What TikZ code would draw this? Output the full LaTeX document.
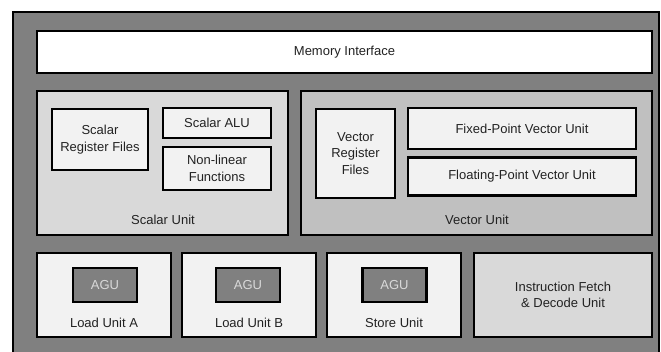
\documentclass[tikz,border=0pt]{standalone}
\usepackage{fontspec}
\setmainfont{Liberation Sans}
\usetikzlibrary{positioning}

\definecolor{shell}{HTML}{808080}
\definecolor{unitgray}{HTML}{D9D9D9}
\definecolor{vecgray}{HTML}{C0C0C0}
\definecolor{paper}{HTML}{F2F2F2}
\definecolor{ink}{HTML}{222222}

\tikzset{
  box/.style={draw=black, line width=2.5pt, fill=paper, text=ink, align=center,
    inner sep=0pt, font=\fontsize{13}{16.5}\selectfont},
  unit/.style={box, fill=unitgray},
  vunit/.style={box, fill=vecgray},
  agu/.style={box, fill=shell, text=unitgray, minimum width=64pt, minimum height=34pt},
  lsu/.style={box, minimum width=134pt, minimum height=84pt},
  caption/.style={text=ink, font=\fontsize{13}{16.5}\selectfont, inner sep=0pt}
}

\begin{document}
\begin{tikzpicture}[x=1pt, y=-1pt]
    \useasboundingbox (0,0) rectangle (661,351);
    \begin{scope}
    \clip (0,0) rectangle (661,351);
    \draw[line width=2.5pt, fill=shell] (13,12) rectangle (659,360);
    \end{scope}

    \node[box, fill=white, minimum width=615pt, minimum height=42pt] (memory) at (344.5,52) {Memory Interface};

    % scalar side
    \node[unit, minimum width=251pt, minimum height=144pt] (scalar) at (162.5,163) {};
    \node[caption] (scalar label) at (163,220) {Scalar Unit};
    \node[box, minimum width=96pt, minimum height=61pt] (srf) at (100,139.5) {Scalar\\Register Files};
    \node[box, minimum width=108pt, minimum height=30pt] (alu) at (217,123) {Scalar ALU};
    \node[box, minimum width=108pt, minimum height=43pt] (nlf) [below=6.5pt of alu] {Non-linear\\Functions};

    % vector side
    \node[vunit, minimum width=351pt, minimum height=144pt] (vector) at (476.5,163) {};
    \node[caption] (vector label) at (477,220) {Vector Unit};
    \node[box, minimum width=79pt, minimum height=89pt] (vrf) at (355.5,153.5) {Vector\\Register\\Files};
    \node[box, minimum width=228pt, minimum height=41pt] (fixed) at (522,128.5) {Fixed-Point Vector Unit};
    \node[box, minimum width=228pt, minimum height=38pt] (float) [below=6pt of fixed] {Floating-Point Vector Unit};

    % load/store and front end
    \node[lsu] (load a) at (104,295) {};
    \node[lsu] (load b) [right=8.5pt of load a] {};
    \node[lsu] (store) [right=8.5pt of load b] {};
    \node[unit, minimum width=178pt, minimum height=84pt] (fetch) at (563,295) {Instruction Fetch\\\& Decode Unit};

    \node[agu] (agu a) at (105,285) {AGU};
    \node[agu] (agu b) at (248,285) {AGU};
    \node[agu] (agu s) at (394.5,285) {AGU};
    \node[caption] (load a label) at (104,323) {Load Unit A};
    \node[caption] (load b label) at (249,323) {Load Unit B};
    \node[caption] (store label) at (394,323) {Store Unit};
\end{tikzpicture}
\end{document}
